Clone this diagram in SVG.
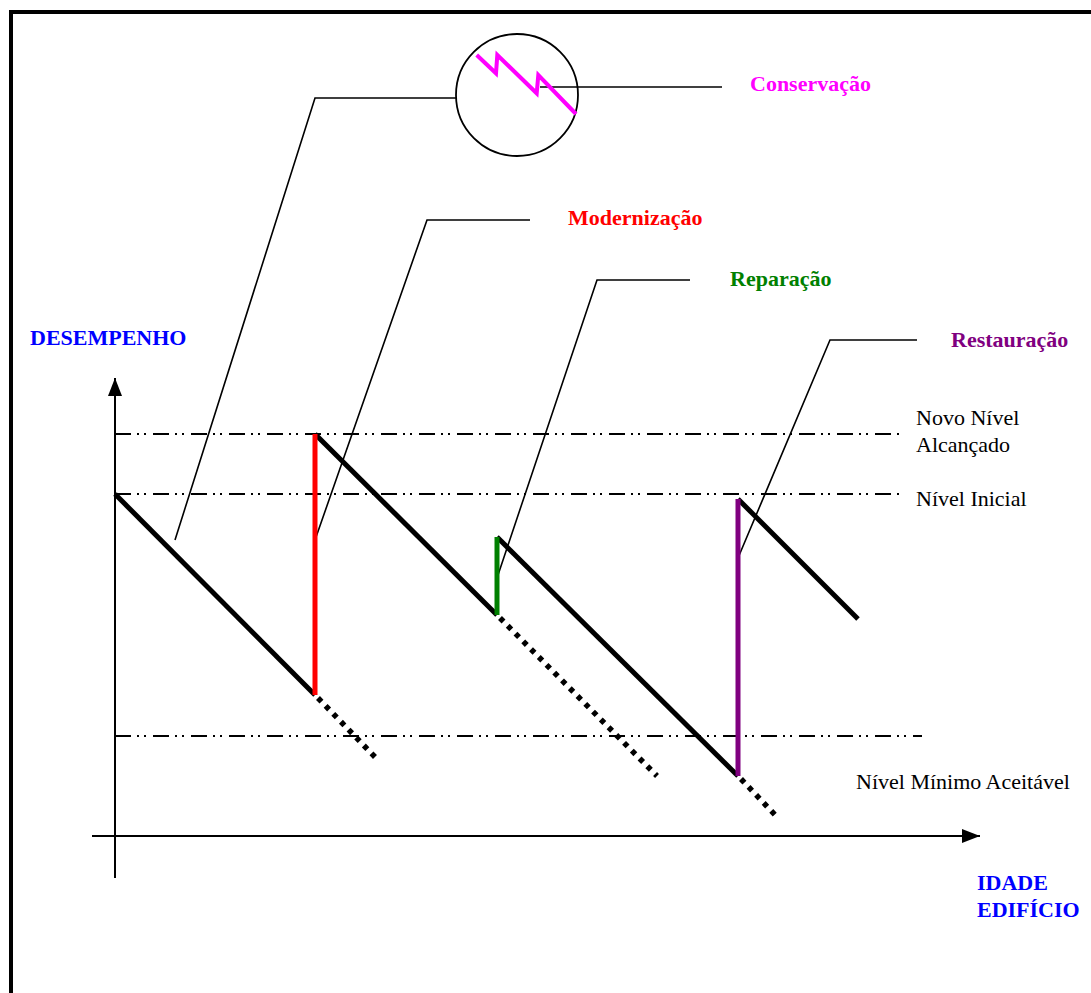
<svg xmlns="http://www.w3.org/2000/svg" width="1091" height="993" viewBox="0 0 1091 993">
<defs>
<style>
.frame{fill:none;stroke:#000;stroke-width:4}
.axis{stroke:#000;stroke-width:2;fill:none}
.level{stroke:#000;stroke-width:1.8;stroke-dasharray:16 6 2 5 2 7;fill:none}
.decay{stroke:#000;stroke-width:5;fill:none}
.dotted{stroke:#000;stroke-width:5.5;stroke-dasharray:5 6;fill:none}
.leader{stroke:#000;stroke-width:1.6;fill:none}
.jump{stroke-width:5;fill:none}
.lbl{font-family:"Liberation Serif","Times New Roman",serif;font-size:22px;fill:#000}
.blbl{font-family:"Liberation Serif","Times New Roman",serif;font-size:22px;font-weight:bold}
</style>
<marker id="arr" markerWidth="18" markerHeight="14" refX="18" refY="7" orient="auto" markerUnits="userSpaceOnUse" viewBox="0 0 18 14">
<path d="M0,0 L18,7 L0,14 Z" fill="#000"/>
</marker>
</defs>
<rect width="1091" height="993" fill="#fff"/>
<path class="frame" d="M11,1000 L11,12 L1100,12"/>

<g id="axes">
<line class="axis" x1="115" y1="878" x2="115" y2="378" marker-end="url(#arr)"/>
<line class="axis" x1="92" y1="836" x2="980" y2="836" marker-end="url(#arr)"/>
</g>

<g id="levels">
<line class="level" x1="115" y1="434" x2="900" y2="434"/>
<line class="level" x1="115" y1="494" x2="900" y2="494"/>
<line class="level" x1="115" y1="736" x2="922" y2="736"/>
</g>

<g id="connectors">
<polyline class="leader" points="175,540 315,98 456,98"/>
<line class="leader" x1="540" y1="87" x2="722" y2="87"/>
<polyline class="leader" points="315,540 427,220 530,220"/>
<polyline class="leader" points="497,578 597,280 690,280"/>
<polyline class="leader" points="738,558 830,340 917,340"/>
</g>

<g id="curve">
<line class="decay" x1="115" y1="494" x2="315" y2="695"/>
<line class="dotted" x1="318" y1="698" x2="375" y2="757"/>
<line class="decay" x1="315" y1="434" x2="497" y2="615"/>
<line class="dotted" x1="500" y1="618" x2="657" y2="776"/>
<line class="decay" x1="497" y1="537" x2="738" y2="776"/>
<line class="dotted" x1="741" y1="779" x2="778" y2="818"/>
<line class="decay" x1="738" y1="499" x2="858" y2="619"/>
<line class="jump" x1="315" y1="434" x2="315" y2="695" stroke="#ff0000"/>
<line class="jump" x1="497" y1="537" x2="497" y2="615" stroke="#008000"/>
<line class="jump" x1="738" y1="499" x2="738" y2="776" stroke="#800080"/>
</g>

<g id="conservacao">
<circle cx="517" cy="95" r="61" fill="none" stroke="#000" stroke-width="1.8"/>
<polyline points="476.7,55 496,73.3 497.3,55 536.7,93.3 538.3,75 576,114" fill="none" stroke="#ff00ff" stroke-width="4"/>
<text class="blbl" x="750" y="91" fill="#ff00ff">Conservação</text>
</g>
<g id="modernizacao"><text class="blbl" x="568" y="225" fill="#ff0000">Modernização</text></g>
<g id="reparacao"><text class="blbl" x="730" y="286" fill="#008000">Reparação</text></g>
<g id="restauracao"><text class="blbl" x="951" y="347" fill="#800080">Restauração</text></g>
<g id="desempenho"><text class="blbl" x="30" y="345" fill="#0000ff">DESEMPENHO</text></g>
<g id="idade"><text class="blbl" fill="#0000ff"><tspan x="977" y="890">IDADE</tspan><tspan x="977" y="917">EDIFÍCIO</tspan></text></g>
<g id="novo"><text class="lbl"><tspan x="916" y="425">Novo Nível</tspan><tspan x="916" y="452">Alcançado</tspan></text></g>
<g id="inicial"><text class="lbl" x="916" y="506">Nível Inicial</text></g>
<g id="minimo"><text class="lbl" x="856" y="789">Nível Mínimo Aceitável</text></g>
</svg>
